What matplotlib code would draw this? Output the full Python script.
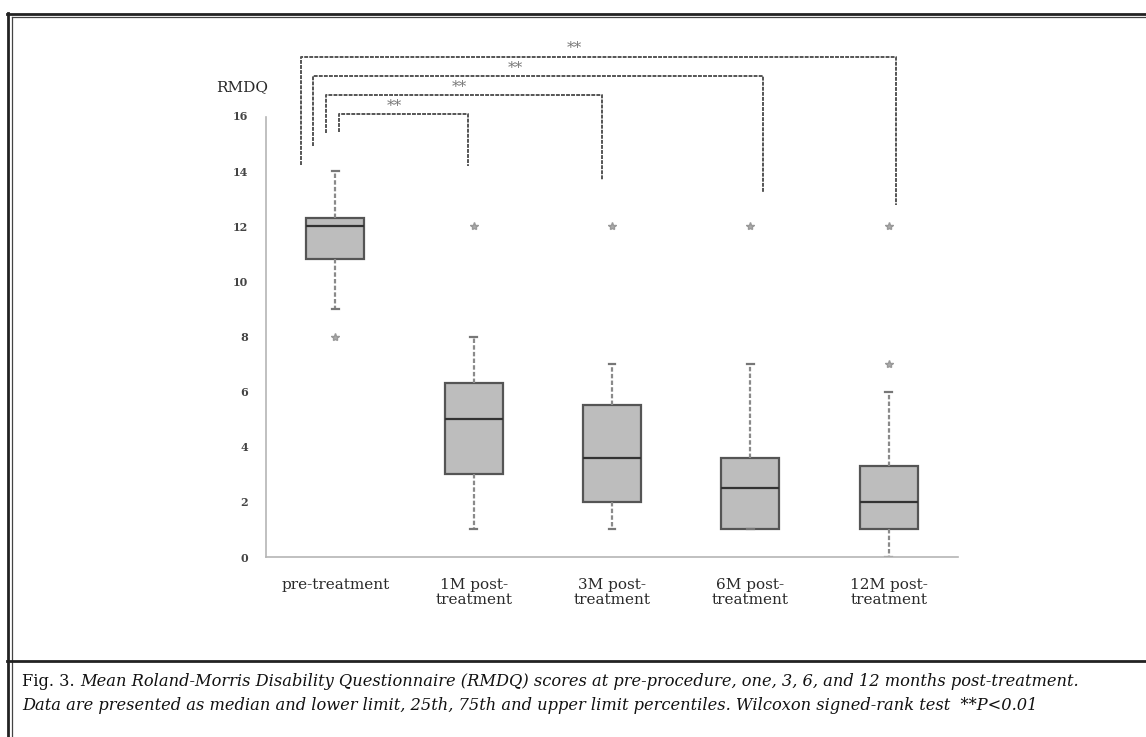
import matplotlib
matplotlib.use("Agg")
import matplotlib.pyplot as plt
from matplotlib.lines import Line2D

# ---- data ----
categories = ["pre-treatment", "1M post-\ntreatment", "3M post-\ntreatment",
              "6M post-\ntreatment", "12M post-\ntreatment"]
whislo = [9, 1, 1, 1, 0]
q1 = [10.8, 3.0, 2.0, 1.0, 1.0]
med = [12.0, 5.0, 3.6, 2.5, 2.0]
q3 = [12.3, 6.3, 5.5, 3.6, 3.3]
whishi = [14, 8, 7, 7, 6]
fliers = [[8], [12], [12], [12], [12, 7]]
yticks = [0, 2, 4, 6, 8, 10, 12, 14, 16]
sig_label = "**"
caption_head = "Fig. 3. "
caption_1 = ("Mean Roland-Morris Disability Questionnaire (RMDQ) scores at "
             "pre-procedure, one, 3, 6, and 12 months post-treatment.")
caption_2 = ("Data are presented as median and lower limit, 25th, 75th and upper "
             "limit percentiles. Wilcoxon signed-rank test  **P<0.01")

W, H = 1146, 737
fig = plt.figure(figsize=(W / 100, H / 100), dpi=100)
fig.patch.set_facecolor("white")

# axes placement in pixels
ax_l, ax_r, ax_top, ax_bot = 266, 958, 116, 557
ax = fig.add_axes([ax_l / W, 1 - ax_bot / H, (ax_r - ax_l) / W, (ax_bot - ax_top) / H])

stats = []
for i in range(len(categories)):
    stats.append(dict(med=med[i], q1=q1[i], q3=q3[i], whislo=whislo[i],
                      whishi=whishi[i], fliers=fliers[i], label=categories[i]))

positions = list(range(1, len(categories) + 1))
ax.bxp(stats, positions=positions, widths=0.42, capwidths=0.05,
       patch_artist=True, showfliers=True,
       boxprops=dict(facecolor="#bdbdbd", edgecolor="#555555", linewidth=1.6),
       medianprops=dict(color="#333333", linewidth=1.6),
       whiskerprops=dict(color="#8a8a8a", linewidth=1.6, linestyle=(0, (2, 1))),
       capprops=dict(color="#777777", linewidth=1.6),
       flierprops=dict(marker="*", markersize=6, markerfacecolor="#aaaaaa",
                       markeredgecolor="#999999", linestyle="none"))

ax.set_xlim(0.5, 5.5)
ax.set_ylim(0, 16)
ax.set_yticks(yticks)
ax.set_yticklabels([str(v) for v in yticks], fontfamily="DejaVu Serif",
                   fontsize=8, color="#444444", fontweight="bold")
ax.set_xticks(positions)
ax.set_xticklabels(categories, fontfamily="DejaVu Serif", fontsize=11,
                   color="#2a2a2a", linespacing=1.15)
ax.tick_params(axis="both", length=0)
ax.tick_params(axis="y", pad=13)
ax.tick_params(axis="x", pad=15)
for s in ["top", "right"]:
    ax.spines[s].set_visible(False)
for s in ["left", "bottom"]:
    ax.spines[s].set_color("#b5b5b5")
    ax.spines[s].set_linewidth(1.2)
    ax.spines[s].set_linestyle((0, (1.5, 1)))
ax.set_facecolor("none")

# RMDQ label
fig.text(242 / W, 1 - 87 / H, "RMDQ", ha="center", va="center",
         fontfamily="DejaVu Serif", fontsize=11, color="#2a2a2a")

# significance brackets (data coords, outside the axes)
brackets = [
    # x_left, x_right, y_top, y_left_end, y_right_end, label_x, label_y
    (0.753, 5.05, 18.14, 14.22, 12.77, 2.73, 18.45),
    (0.84, 4.09, 17.45, 14.91, 13.24, 2.30, 17.75),
    (0.93, 2.93, 16.76, 15.38, 13.68, 1.90, 17.05),
    (1.03, 1.96, 16.07, 15.42, 14.19, 1.43, 16.37),
]
for (xl, xr, yt, yle, yre, lx, ly) in brackets:
    ax.plot([xl, xl, xr, xr], [yle, yt, yt, yre], color="#555555",
            linewidth=1.4, linestyle=(0, (2, 0.6)), clip_on=False)
    ax.text(lx, ly, sig_label, ha="center", va="center", fontsize=11,
            color="#777777", fontfamily="DejaVu Serif", clip_on=False)

# frame lines
def hline(y, x0, x1, lw, c="#222222"):
    fig.add_artist(Line2D([x0 / W, x1 / W], [1 - y / H, 1 - y / H],
                          transform=fig.transFigure, color=c, linewidth=lw))

def vline(x, y0, y1, lw, c="#222222"):
    fig.add_artist(Line2D([x / W, x / W], [1 - y0 / H, 1 - y1 / H],
                          transform=fig.transFigure, color=c, linewidth=lw))

hline(13.5, 7, W, 2.0)
hline(16.5, 12, W, 0.9, "#444444")
vline(7.5, 13, H, 2.0)
vline(12, 16.5, H, 0.9, "#444444")
hline(661, 7, W, 2.0)

# caption (fit first line to the target width)
fig.canvas.draw()
renderer = fig.canvas.get_renderer()
x_start, x_end = 22, 1085
fs = 11.0
for _ in range(3):
    ta = fig.text(0, 0, caption_head, fontfamily="DejaVu Serif", fontsize=fs)
    tb = fig.text(0, 0, caption_1, fontfamily="DejaVu Serif", fontsize=fs, style="italic")
    wtot = ta.get_window_extent(renderer).width + tb.get_window_extent(renderer).width
    ta.remove(); tb.remove()
    fs *= (x_end - x_start) / wtot

cap_font = dict(fontfamily="DejaVu Serif", fontsize=fs, color="#111111")
t1 = fig.text(x_start / W, 1 - 682 / H, caption_head, ha="left", va="center", **cap_font)
bb = t1.get_window_extent(renderer)
fig.text(bb.x1 / W, 1 - 682 / H, caption_1, ha="left", va="center",
         style="italic", **cap_font)
fig.text(x_start / W, 1 - 706 / H, caption_2, ha="left", va="center",
         style="italic", **cap_font)

fig.savefig("out.png", dpi=100, facecolor="white")
